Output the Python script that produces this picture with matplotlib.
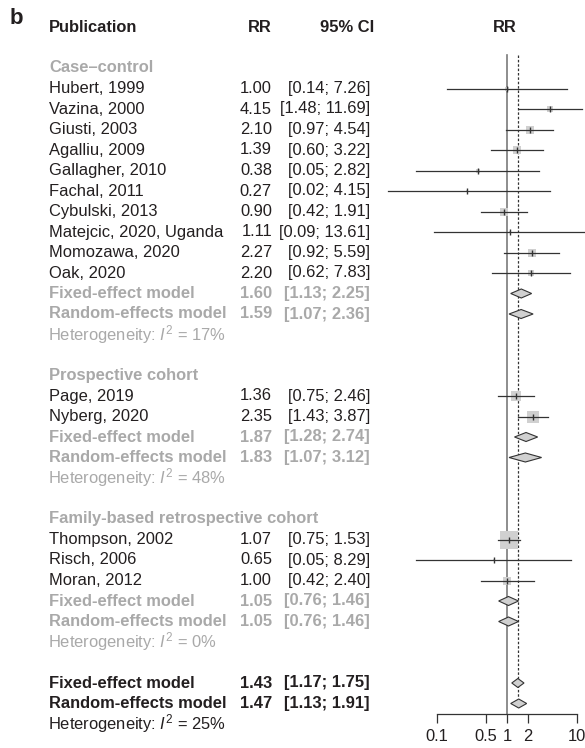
import numpy as np
import matplotlib
matplotlib.use("Agg")
import matplotlib.pyplot as plt
from matplotlib.patches import Polygon
from matplotlib.transforms import blended_transform_factory

plt.rcParams["font.family"] = ["Liberation Sans", "DejaVu Sans"]
plt.rcParams["mathtext.fontset"] = "custom"
plt.rcParams["mathtext.rm"] = "Liberation Sans"
plt.rcParams["mathtext.it"] = "Liberation Sans:italic"


# DATA

GROUPS = ["Case\u2013control", "Prospective cohort", "Family-based retrospective cohort"]

STUDY_NAMES = [
    "Hubert, 1999", "Vazina, 2000", "Giusti, 2003", "Agalliu, 2009",
    "Gallagher, 2010", "Fachal, 2011", "Cybulski, 2013",
    "Matejcic, 2020, Uganda", "Momozawa, 2020", "Oak, 2020",
    "Page, 2019", "Nyberg, 2020",
    "Thompson, 2002", "Risch, 2006", "Moran, 2012",
]
STUDY_GROUP = [0, 0, 0, 0, 0, 0, 0, 0, 0, 0, 1, 1, 2, 2, 2]
STUDY_RR = [1.00, 4.15, 2.10, 1.39, 0.38, 0.27, 0.90, 1.11, 2.27, 2.20,
            1.36, 2.35, 1.07, 0.65, 1.00]
STUDY_LO = [0.14, 1.48, 0.97, 0.60, 0.05, 0.02, 0.42, 0.09, 0.92, 0.62,
            0.75, 1.43, 0.75, 0.05, 0.42]
STUDY_HI = [7.26, 11.69, 4.54, 3.22, 2.82, 4.15, 1.91, 13.61, 5.59, 7.83,
            2.46, 3.87, 1.53, 8.29, 2.40]

GROUP_FE_RR = [1.60, 1.87, 1.05]
GROUP_FE_LO = [1.13, 1.28, 0.76]
GROUP_FE_HI = [2.25, 2.74, 1.46]
GROUP_RE_RR = [1.59, 1.83, 1.05]
GROUP_RE_LO = [1.07, 1.07, 0.76]
GROUP_RE_HI = [2.36, 3.12, 1.46]
GROUP_I2 = [17, 48, 0]

OVERALL_FE = [1.43, 1.17, 1.75]
OVERALL_RE = [1.47, 1.13, 1.91]
OVERALL_I2 = 25

TICKS = [0.1, 0.5, 1, 2, 10]
TICK_LABELS = ["0.1", "0.5", "1", "2", "10"]


# STYLE

W, H = 585, 748
ROW0, ROWH = 27, 20.5
BLACK = "#231f20"
GREY = "#a9a9a9"
FS = 11.9


# LAYOUT

rows = []   # (kind, payload)
rows.append(("header", None))
rows.append(("blank", None))
for g, gname in enumerate(GROUPS):
    rows.append(("group", g))
    for i in range(len(STUDY_NAMES)):
        if STUDY_GROUP[i] == g:
            rows.append(("study", i))
    rows.append(("gfe", g))
    rows.append(("gre", g))
    rows.append(("ghet", g))
    rows.append(("blank", None))
rows.append(("ofe", None))
rows.append(("ore", None))
rows.append(("ohet", None))

fig = plt.figure(figsize=(W / 100, H / 100), dpi=100)
ax = fig.add_axes([437 / W, 0, 140 / W, 1])
ax.set_xscale("log")
ax.set_xlim(0.1, 10)
ax.set_ylim((H - ROW0) / ROWH, -ROW0 / ROWH)
ax.patch.set_alpha(0)

tr = blended_transform_factory(fig.transFigure, ax.transData)


def txt(xpx, r, s, color=BLACK, bold=False, ha="left", size=FS):
    ax.text(xpx / W, r, s, transform=tr, ha=ha, va="center",
            color=color, fontsize=size,
            fontweight="bold" if bold else "normal")


def ci_str(lo, hi):
    return f"[{lo:.2f}; {hi:.2f}]"


def diamond(est, lo, hi, r, h=0.22):
    ax.add_patch(Polygon([(lo, r), (est, r - h), (hi, r), (est, r + h)],
                         closed=True, facecolor="#d0d0d0",
                         edgecolor="#333333", lw=0.8, zorder=4,
                         clip_on=False))


# weights for square size (inverse variance from the CIs)
se = (np.log(STUDY_HI) - np.log(STUDY_LO)) / 3.92
wts = 1 / se ** 2

X_NAME, X_RR, X_CI = 49, 272, 370

fig.text(10 / W, 1 - 19 / H, "b", fontsize=16, fontweight="bold",
         color=BLACK, va="center")

for r, (kind, p) in enumerate(rows):
    if kind == "header":
        txt(X_NAME, r, "Publication", bold=True)
        txt(260, r, "RR", bold=True, ha="center")
        txt(347, r, "95% CI", bold=True, ha="center")
        txt(505, r, "RR", bold=True, ha="center")
    elif kind == "group":
        txt(X_NAME, r, GROUPS[p], color=GREY, bold=True)
    elif kind == "study":
        txt(X_NAME, r, STUDY_NAMES[p])
        txt(X_RR, r, f"{STUDY_RR[p]:.2f}", ha="right")
        txt(X_CI, r, ci_str(STUDY_LO[p], STUDY_HI[p]), ha="right")
        side = 3.27 * np.sqrt(wts[p])
        ax.scatter([STUDY_RR[p]], [r], marker="s", s=(side * 0.72) ** 2,
                   color="#d0d0d0", lw=0, zorder=2, clip_on=False)
        ax.plot([STUDY_LO[p], STUDY_HI[p]], [r, r], color="#333333",
                lw=0.9, zorder=3, clip_on=False)
        ax.plot([STUDY_RR[p]], [r], marker="|", ms=4, mew=1.0,
                color="#333333", zorder=3, clip_on=False)
    elif kind in ("gfe", "gre"):
        if kind == "gfe":
            lab, est, lo, hi = ("Fixed-effect model", GROUP_FE_RR[p],
                                GROUP_FE_LO[p], GROUP_FE_HI[p])
        else:
            lab, est, lo, hi = ("Random-effects model", GROUP_RE_RR[p],
                                GROUP_RE_LO[p], GROUP_RE_HI[p])
        txt(X_NAME, r, lab, color=GREY, bold=True)
        txt(X_RR, r, f"{est:.2f}", color=GREY, bold=True, ha="right")
        txt(X_CI, r, ci_str(lo, hi), color=GREY, bold=True, ha="right")
        diamond(est, lo, hi, r)
    elif kind == "ghet":
        txt(X_NAME - 1, r, f"Heterogeneity: $I^2$ = {GROUP_I2[p]}%",
            color=GREY)
    elif kind in ("ofe", "ore"):
        lab, (est, lo, hi) = (("Fixed-effect model", OVERALL_FE)
                              if kind == "ofe" else
                              ("Random-effects model", OVERALL_RE))
        txt(X_NAME, r, lab, bold=True)
        txt(X_RR, r, f"{est:.2f}", bold=True, ha="right")
        txt(X_CI, r, ci_str(lo, hi), bold=True, ha="right")
        diamond(est, lo, hi, r)
    elif kind == "ohet":
        txt(X_NAME - 1, r, f"Heterogeneity: $I^2$ = {OVERALL_I2}%")

r_ofe = [i for i, (k, _) in enumerate(rows) if k == "ofe"][0]
r_axis = (714 - ROW0) / ROWH
r_top = (55 - ROW0) / ROWH

# reference lines
ax.plot([1, 1], [r_top, r_axis], color="#7a7a7a", lw=1.2, zorder=1)
ax.plot([OVERALL_FE[0]] * 2, [r_top, r_ofe + 0.75], color="#333333",
        lw=0.9, ls=(0, (2, 1.5)), zorder=1)

# x axis
for s in ["top", "right", "left"]:
    ax.spines[s].set_visible(False)
ax.spines["bottom"].set_position(("data", r_axis))
ax.spines["bottom"].set_bounds(0.1, 10)
ax.spines["bottom"].set_color("#333333")
ax.spines["bottom"].set_linewidth(0.9)
ax.set_yticks([])
ax.set_xticks(TICKS)
ax.set_xticklabels(TICK_LABELS)
ax.xaxis.set_minor_locator(matplotlib.ticker.NullLocator())
ax.tick_params(axis="x", direction="out", length=6.5, width=0.9,
               color="#333333", labelsize=FS, labelcolor=BLACK, pad=4)

fig.savefig("out.png", dpi=100, facecolor="white")
